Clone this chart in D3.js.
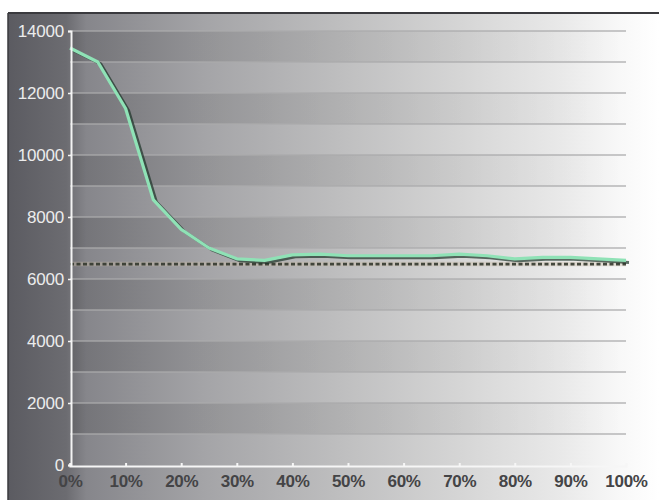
<!DOCTYPE html>
<html><head><meta charset="utf-8">
<script src="https://cdn.jsdelivr.net/npm/d3@7"></script>
<style>html,body{margin:0;padding:0;background:#fff;}svg{display:block;}</style>
</head><body>
<script>
const xPercent = [0,5,10,15,20,25,30,35,40,45,50,55,60,65,70,75,80,85,90,95,100];
const seriesValues = [13450,13000,11500,8550,7600,7000,6650,6600,6780,6800,6750,6750,6750,6750,6800,6750,6650,6700,6700,6650,6600];
const referenceValue = 6480;
const yTicks = [0,2000,4000,6000,8000,10000,12000,14000];
const xTicks = [0,10,20,30,40,50,60,70,80,90,100];
const xTickLabels = xTicks.map(d => d + "%");

const W = 659, H = 500;
const svg = d3.select("body").append("svg").attr("width", W).attr("height", H);
const defs = svg.append("defs");
const bg = defs.append("linearGradient").attr("id","bg").attr("x1","0").attr("x2","1").attr("y1","0").attr("y2","0");
[[0,"#5b5b61"],[0.09,"#6c6c71"],[0.12,"#86868b"],[0.3,"#a4a4a7"],[0.5,"#bdbdbe"],[0.7,"#d6d6d6"],[0.85,"#e9e9e9"],[0.94,"#f8f8f8"],[1,"#ffffff"]]
  .forEach(([o,c]) => bg.append("stop").attr("offset",o).attr("stop-color",c));
const bandG = defs.append("linearGradient").attr("id","band").attr("x1","0").attr("x2","1").attr("y1","0").attr("y2","0");
[[0,0.13],[0.6,0.06],[1,0.0]].forEach(([o,a]) => bandG.append("stop").attr("offset",o).attr("stop-color","#000").attr("stop-opacity",a));

// frame
svg.append("rect").attr("x",8).attr("y",13).attr("width",W-8).attr("height",H-13).attr("fill","url(#bg)");
svg.append("line").attr("x1",8).attr("x2",W).attr("y1",13).attr("y2",13).attr("stroke","#3a3a3e").attr("stroke-width",2);
svg.append("line").attr("x1",8).attr("x2",8).attr("y1",13).attr("y2",H).attr("stroke","#3a3a3e").attr("stroke-width",1.5);

const x = d3.scaleLinear().domain([0,100]).range([70,626]);
const y = d3.scaleLinear().domain([0,14000]).range([465,31]);

// bands
const bandStarts = d3.range(1000, 14000, 2000);
svg.append("g").selectAll("rect").data(bandStarts).join("rect")
  .attr("x", x(0)).attr("width", x(100)-x(0))
  .attr("y", d => y(d+1000)).attr("height", d => y(d)-y(d+1000))
  .attr("fill","url(#band)");

// grid lines
const grid = d3.range(1000, 14001, 1000);
svg.append("g").selectAll("line").data(grid).join("line")
  .attr("x1", x(0)).attr("x2", x(100))
  .attr("y1", d => y(d)).attr("y2", d => y(d))
  .attr("stroke","#ababad").attr("stroke-width",1.4).attr("opacity",0.85);

// reference dashed line
svg.append("line").attr("x1", x(0)).attr("x2", x(100))
  .attr("y1", y(referenceValue)).attr("y2", y(referenceValue))
  .attr("stroke","#c9bca6").attr("stroke-width",4.5).attr("opacity",0.4);
svg.append("line").attr("x1", x(0)).attr("x2", x(100))
  .attr("y1", y(referenceValue)).attr("y2", y(referenceValue))
  .attr("stroke","#34392f").attr("stroke-width",2.6).attr("stroke-dasharray","4,2.5").attr("opacity",0.9);

const data = xPercent.map((p,i) => ({p, v: seriesValues[i]}));
const line = d3.line().x(d => x(d.p)).y(d => y(d.v));
svg.append("path").datum(data).attr("d", line).attr("fill","none")
  .attr("stroke","#1c3328").attr("stroke-width",3).attr("opacity",0.7)
  .attr("transform","translate(3,2)");
svg.append("path").datum(data).attr("d", line).attr("fill","none")
  .attr("stroke","#8fe2b6").attr("stroke-width",3.2).attr("stroke-linejoin","round");

// axes
const yAxis = d3.axisLeft(y).tickValues(yTicks).tickSize(3).tickPadding(4).tickFormat(d3.format("d"));
const gy = svg.append("g").attr("transform",`translate(${x(0)+1},0)`).call(yAxis);
gy.select(".domain").attr("stroke","#f4f4f4").attr("stroke-width",2);
gy.selectAll(".tick line").attr("stroke","#f4f4f4").attr("stroke-width",1.5);
gy.selectAll(".tick text").attr("fill","#ececec").attr("font-family","Liberation Sans, Arial, sans-serif")
  .attr("font-size",17).attr("letter-spacing","-0.2px");

const xAxis = d3.axisBottom(x).tickValues(xTicks).tickSize(-3).tickPadding(9).tickFormat((d,i) => xTickLabels[i]);
const gx = svg.append("g").attr("transform",`translate(0,${y(0)+1})`).call(xAxis);
gx.select(".domain").attr("stroke","#f6f6f6").attr("stroke-width",2.2);
gx.selectAll(".tick line").attr("stroke","#f6f6f6").attr("stroke-width",2);
gx.selectAll(".tick text").attr("fill","#444446").attr("font-family","Liberation Sans, Arial, sans-serif")
  .attr("font-size",17).attr("font-weight","bold").attr("letter-spacing","-0.3px");
</script>
</body></html>
